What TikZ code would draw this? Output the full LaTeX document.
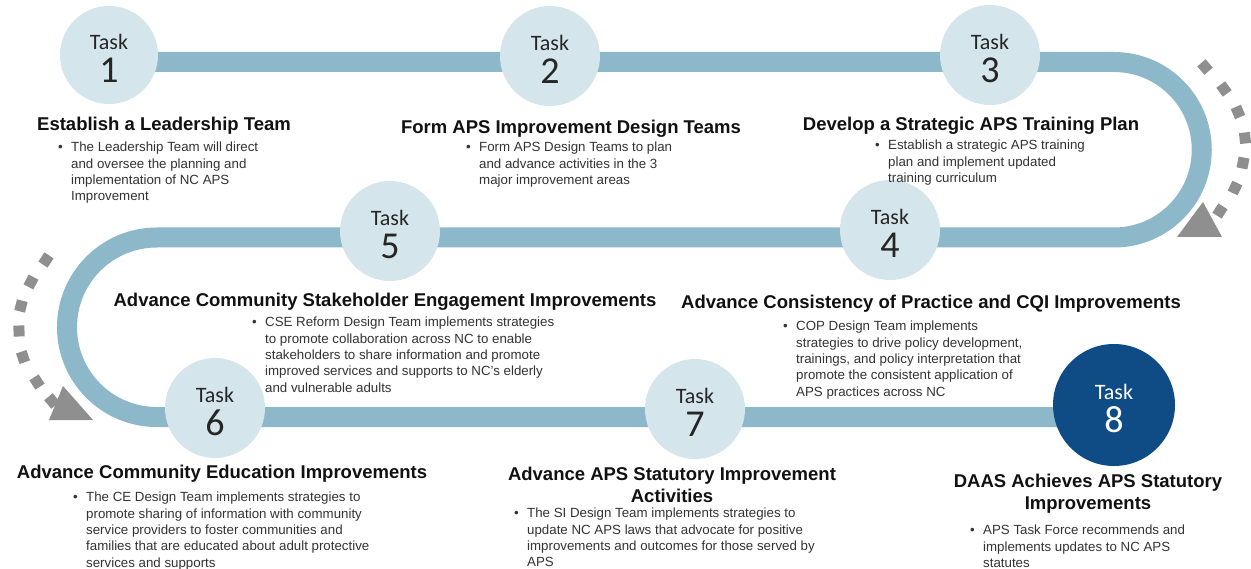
\documentclass[tikz,border=0pt]{standalone}
\usepackage{fontspec}
\setmainfont{Liberation Sans}
\newfontfamily\carlito{Carlito}
\definecolor{trackblue}{HTML}{8DB8CA}
\definecolor{circfill}{HTML}{D5E5EC}
\definecolor{darkblue}{HTML}{0F4C85}
\definecolor{arrowgray}{HTML}{8F8F8F}
\definecolor{bodygray}{HTML}{333333}
\definecolor{headblack}{HTML}{111111}
\definecolor{circtext}{HTML}{262626}
\tikzset{
  track/.style={draw=trackblue, line width=20pt},
  circ/.style={circle, fill=circfill, draw=none, inner sep=0pt},
  circdark/.style={circle, fill=darkblue, draw=none, inner sep=0pt},
  tasklbl/.style={inner sep=0pt, font=\carlito\fontsize{22}{22}\selectfont, text=circtext},
  numlbl/.style={inner sep=0pt, font=\carlito\fontsize{38}{38}\selectfont, text=circtext},
  heading/.style={inner sep=0pt, anchor=north, align=center, font=\bfseries\fontsize{18.5}{22}\selectfont, text=headblack},
  body/.style={inner sep=0pt, anchor=north west, align=left, font=\fontsize{13.3}{16.3}\selectfont, text=bodygray},
  sq/.style={fill=arrowgray}
}
\newcommand{\bul}{\llap{\textbullet\hspace{8.5pt}}}
\begin{document}
\begin{tikzpicture}[x=1pt,y=-1pt]
\useasboundingbox (0,0) rectangle (1251,569);
\fill[white] (0,0) rectangle (1251,569);

% track
\coordinate (ts) at (109,62);
\coordinate (tr) at (1114,62);
\coordinate (ml) at (156.75,237.5);
\coordinate (be) at (1114,417);
\draw[track] (ts) -- (tr) arc[start angle=-90, end angle=90, radius=87.75] -- (ml)
  arc[start angle=-90, end angle=-270, radius=89.75] -- (be);

% dashed arrow right
\foreach \x/\y/\a in {1205/67/-49, 1224/89/-54, 1238/112/-67, 1245/138/-84, 1243/163/-101, 1235/188/-116, 1220/211/-123}
  \fill[sq, rotate around={\a:(\x,\y)}] (\x-5.5,\y-5.5) rectangle (\x+5.5,\y+5.5);
\fill[arrowgray] (1203,202) -- (1222,237) -- (1177,237) -- cycle;

% dashed arrow left
\foreach \x/\y/\a in {46/260/-124, 31/282/-118, 21/306/-104, 19/331/-88, 23/357/-71, 37/382/-57, 52/401/-50}
  \fill[sq, rotate around={\a:(\x,\y)}] (\x-5.5,\y-5.5) rectangle (\x+5.5,\y+5.5);
\fill[arrowgray] (63,386) -- (93,420) -- (49,420) -- cycle;

% circles
\node[circ, minimum size=98pt] (c1) at (109,55) {};
\node[circ, minimum size=100pt] (c2) at (550,56) {};
\node[circ, minimum size=100pt] (c3) at (990,55) {};
\node[circ, minimum size=100pt] (c5) at (390,231) {};
\node[circ, minimum size=100pt] (c4) at (890,230) {};
\node[circ, minimum size=100pt] (c6) at (215,408) {};
\node[circ, minimum size=100pt] (c7) at (695,409) {};
\node[circdark, minimum size=122pt] (c8) at (1114,405) {};

\foreach \c/\n in {c1/1, c2/2, c3/3, c4/4, c5/5, c6/6, c7/7} {
  \node[tasklbl] (\c t) at ([yshift=13pt]\c.center) {Task};
  \node[numlbl] (\c n) at ([yshift=-15pt]\c.center) {\n};
}
\node[tasklbl, text=white] (c8t) at ([yshift=13pt]c8.center) {Task};
\node[numlbl, text=white] (c8n) at ([yshift=-15pt]c8.center) {8};

% headings
\node[heading] (h1) at (164,117) {Establish a Leadership Team};
\node[heading] (h2) at (571,120) {Form APS Improvement Design Teams};
\node[heading] (h3) at (971,117) {Develop a Strategic APS Training Plan};
\node[heading] (h5) at (385,293) {Advance Community Stakeholder Engagement Improvements};
\node[heading] (h4) at (931,295) {Advance Consistency of Practice and CQI Improvements};
\node[heading] (h6) at (222,465) {Advance Community Education Improvements};
\node[heading] (h7) at (672,467) {Advance APS Statutory Improvement\\Activities};
\node[heading] (h8) at (1088,474) {DAAS Achieves APS Statutory\\Improvements};

% bodies
\node[body] (b1) at (71,142) {\bul The Leadership Team will direct\\and oversee the planning and\\implementation of NC APS\\Improvement};
\node[body] (b2) at (479,142) {\bul Form APS Design Teams to plan\\and advance activities in the 3\\major improvement areas};
\node[body] (b3) at (888,140) {\bul Establish a strategic APS training\\plan and implement updated\\training curriculum};
\node[body] (b5) at (265,317) {\bul CSE Reform Design Team implements strategies\\to promote collaboration across NC to enable\\stakeholders to share information and promote\\improved services and supports to NC’s elderly\\and vulnerable adults};
\node[body] (b4) at (796,321) {\bul COP Design Team implements\\strategies to drive policy development,\\trainings, and policy interpretation that\\promote the consistent application of\\APS practices across NC};
\node[body] (b6) at (86,492) {\bul The CE Design Team implements strategies to\\promote sharing of information with community\\service providers to foster communities and\\families that are educated about adult protective\\services and supports};
\node[body] (b7) at (527,508) {\bul The SI Design Team implements strategies to\\update NC APS laws that advocate for positive\\improvements and outcomes for those served by\\APS};
\node[body] (b8) at (983,525) {\bul APS Task Force recommends and\\implements updates to NC APS\\statutes};
\end{tikzpicture}
\end{document}
